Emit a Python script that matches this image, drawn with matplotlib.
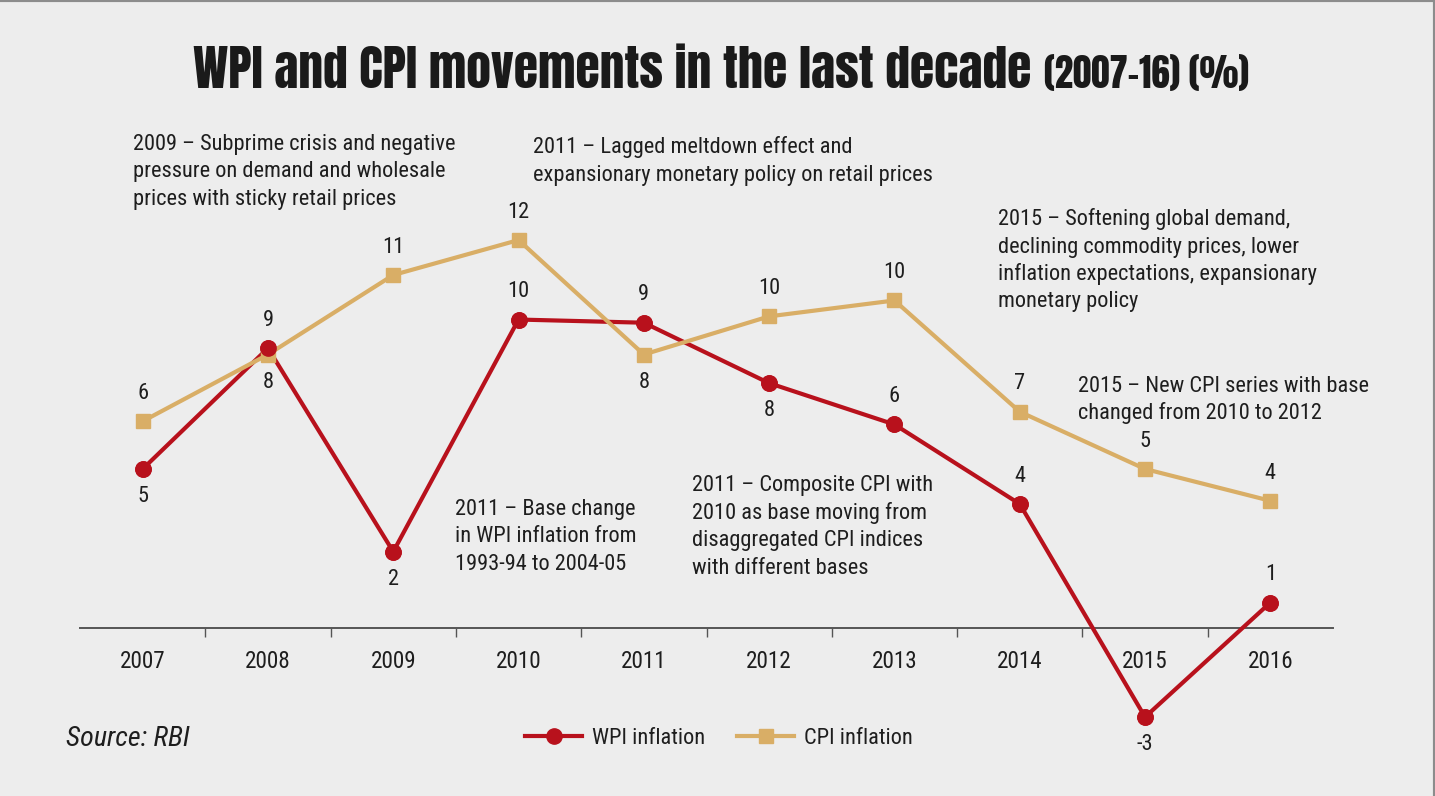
import matplotlib
matplotlib.use("Agg")
import matplotlib.pyplot as plt
from matplotlib import font_manager
from matplotlib.lines import Line2D
from matplotlib.ticker import FixedLocator

# ── Data ─────────────────────────────────────────────────────────────
years = ["2007", "2008", "2009", "2010", "2011",
         "2012", "2013", "2014", "2015", "2016"]
wpi = [5.0, 8.8, 2.4, 9.7, 9.6, 7.7, 6.4, 3.9, -2.8, 0.8]
cpi = [6.5, 8.6, 11.1, 12.2, 8.6, 9.8, 10.3, 6.8, 5.0, 4.0]
wpi_labels = ["5", "9", "2", "10", "9", "8", "6", "4", "-3", "1"]
cpi_labels = ["6", "8", "11", "12", "8", "10", "10", "7", "5", "4"]

notes = [
    "2009 – Subprime crisis and negative\npressure on demand and wholesale\nprices with sticky retail prices",
    "2011 – Lagged meltdown effect and\nexpansionary monetary policy on retail prices",
    "2015 – Softening global demand,\ndeclining commodity prices, lower\ninflation expectations, expansionary\nmonetary policy",
    "2015 – New CPI series with base\nchanged from 2010 to 2012",
    "2011 – Composite CPI with\n2010 as base moving from\ndisaggregated CPI indices\nwith different bases",
    "2011 – Base change\nin WPI inflation from\n1993-94 to 2004-05",
]
title = "WPI and CPI movements in the last decade"
subtitle = "(2007-16) (%)"

# ── Style ────────────────────────────────────────────────────────────
W, H = 1435, 796
BG = "#ededed"
RED = "#b8111c"
TAN = "#d9ae66"
INK = "#1e1e1e"
AXIS = "#555555"

WPI_SIDE = [-1, 1, -1, 1, 1, -1, 1, 1, -1, 1]   # +1 label above, -1 below
CPI_SIDE = [1, -1, 1, 1, -1, 1, 1, 1, 1, 1]
NOTE_POS = [(133, 150), (533, 153), (998, 225), (1078, 392), (692, 491), (455, 515)]  # first baseline
LINE_GAP = 27.5

names = {f.name for f in font_manager.fontManager.ttflist}


def pick(cands, default="DejaVu Sans"):
    for c in cands:
        if c in names:
            return c
    return default


BODY = pick(["Roboto Condensed", "Archivo Narrow", "Liberation Sans Narrow",
             "PT Sans Narrow", "Sofia Sans Condensed", "Saira SemiCondensed"])
HEAD = pick(["Anton", "League Gothic", "Oswald", "Fjalla One", "Bebas Neue",
             "Saira ExtraCondensed"], BODY)
plt.rcParams["font.family"] = [BODY, "DejaVu Sans"]


def px(x, y):
    return x / W, 1 - y / H


fig = plt.figure(figsize=(W / 100, H / 100), dpi=100, facecolor=BG)
renderer = fig.canvas.get_renderer()


def fit(text, target, **kw):
    t = fig.text(0, 0, text, fontsize=20, **kw)
    w = t.get_window_extent(renderer).width
    t.remove()
    return 20 * target / w


FS = fit("2009 – Subprime crisis and negative", 322, family=BODY)
FS_T = fit(title, 837, family=HEAD, fontweight="bold")
FS_S = fit(subtitle, 204, family=HEAD, fontweight="bold")
FS_SRC = fit("Source: RBI", 124, family=BODY, style="italic")
PT = 100 / 72  # px per point

# axes: x from px 80 to 1333, zero line at px 628, 31.8 px per unit
top_px, bot_px, zero_px, k = 100, 790, 628, 31.8
ax = fig.add_axes([80 / W, 1 - bot_px / H, (1333 - 80) / W, (bot_px - top_px) / H])
ax.set_facecolor("none")
ax.set_xlim(-0.5, 9.5)
ax.set_ylim((zero_px - bot_px) / k, (zero_px - top_px) / k)

x = list(range(len(years)))
ax.plot(x, wpi, color=RED, lw=3.0, marker="o", ms=11, zorder=3,
        label="WPI inflation", clip_on=False)
ax.plot(x, cpi, color=TAN, lw=3.0, marker="s", ms=9.5, zorder=4,
        label="CPI inflation", clip_on=False)
ax.plot(x, wpi, ls="none", marker="o", ms=11, color=RED, zorder=5, clip_on=False)

for xi, v, lab, s in zip(x, wpi, wpi_labels, WPI_SIDE):
    ax.annotate(lab, (xi, v), xytext=(0, 20 * s), textcoords="offset points",
                ha="center", va="center", fontsize=FS, color=INK)
for xi, v, lab, s in zip(x, cpi, cpi_labels, CPI_SIDE):
    ax.annotate(lab, (xi, v), xytext=(0, 20 * s), textcoords="offset points",
                ha="center", va="center", fontsize=FS, color=INK)

# axis
for side in ["left", "right", "top"]:
    ax.spines[side].set_visible(False)
ax.spines["bottom"].set_position(("data", 0))
ax.spines["bottom"].set_color(AXIS)
ax.spines["bottom"].set_linewidth(1.4)
ax.set_yticks([])
ax.set_xticks(x)
ax.set_xticklabels(years)
ax.xaxis.set_minor_locator(FixedLocator([i + 0.5 for i in range(9)]))
ax.tick_params(axis="x", which="major", length=0, pad=22 / PT, labelsize=FS * 1.03, labelcolor=INK)
ax.tick_params(axis="x", which="minor", length=6.5, width=1, color=AXIS, direction="out")

# notes, one text per line
for txt, (nx, ny) in zip(notes, NOTE_POS):
    for i, line in enumerate(txt.split("\n")):
        fig.text(*px(nx, ny + i * LINE_GAP), line, ha="left", va="baseline",
                 fontsize=FS, color=INK)

# title
t1 = fig.text(*px(193, 88), title, ha="left", va="baseline", family=HEAD,
              fontsize=FS_T, fontweight="bold", color="#1a1a1a")
bb = t1.get_window_extent(renderer)
fig.text((bb.x1 + 13) / W, 1 - 88 / H, subtitle, ha="left", va="baseline",
         family=HEAD, fontsize=FS_S, fontweight="bold", color="#1a1a1a")

# source + legend
fig.text(*px(66, 746), "Source: RBI", ha="left", va="baseline",
         fontsize=FS_SRC, style="italic", color=INK)
em = FS * PT
ax.legend(loc="center left", bbox_to_anchor=px(525, 738),
          bbox_transform=fig.transFigure, ncol=2, frameon=False, fontsize=FS,
          handlelength=57 / em, handletextpad=10 / em, columnspacing=32 / em,
          borderpad=0, borderaxespad=0, labelcolor=INK)

# frame edges (top and right)
fig.add_artist(Line2D([0, 1], [1, 1], transform=fig.transFigure, color="#8c8c8c", lw=3))
fig.add_artist(Line2D([1, 1], [0, 1], transform=fig.transFigure, color="#8c8c8c", lw=3))

fig.savefig("out.png", dpi=100, facecolor=BG)
